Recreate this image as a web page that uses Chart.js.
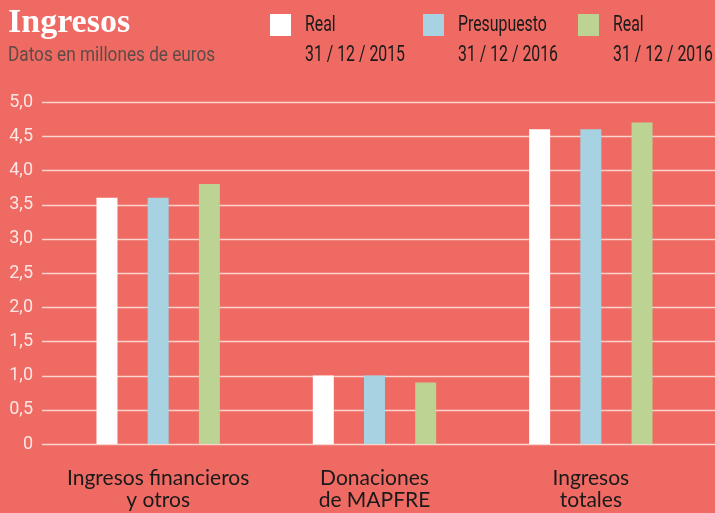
<!DOCTYPE html>
<html>
<head>
<meta charset="utf-8">
<script src="https://cdn.jsdelivr.net/npm/chart.js@4.4.1/dist/chart.umd.min.js"></script>
<style>
  html, body { margin: 0; padding: 0; }
  body { width: 715px; height: 513px; background: #ee6a62; position: relative; overflow: hidden; }
  #wrap { position: absolute; left: 0; top: 0; width: 715px; height: 513px; }
  #title { position: absolute; left: 8px; top: 2px; font-family: "Liberation Serif", serif; font-size: 34px; color: #fff; font-weight: bold; }
  #subtitle { position: absolute; left: 8px; top: 42px; font-family: Roboto, sans-serif; font-size: 20px; color: #5e4a47; white-space: nowrap; transform: scaleX(0.86); transform-origin: left top; }
  .leg { position: absolute; top: 9px; font-family: Roboto, sans-serif; font-size: 22px; color: #1a1a1a; line-height: 30px; white-space: nowrap; }
  .leg .txt { display: inline-block; transform: scaleX(0.72); transform-origin: left top; }
  .leg .sw { position: absolute; left: -35px; top: 5px; width: 21px; height: 22px; }
</style>
</head>
<body>
<div id="wrap"><canvas id="chart" width="715" height="513"></canvas></div>
<div id="title">Ingresos</div>
<div id="subtitle">Datos en millones de euros</div>
<div id="legend"></div>
<script>
// Categories (multi-line labels)
const categories = [
  ['Ingresos financieros', 'y otros'],
  ['Donaciones', 'de MAPFRE'],
  ['Ingresos', 'totales']
];

// Series values (millones de euros)
const real2015 = [3.6, 1.0, 4.6];
const presupuesto2016 = [3.6, 1.0, 4.6];
const real2016 = [3.8, 0.9, 4.7];

const seriesNames = [['Real', '31 / 12 / 2015'], ['Presupuesto', '31 / 12 / 2016'], ['Real', '31 / 12 / 2016']];
const seriesColors = ['#ffffff', '#a6d2e2', '#bcd394'];

// Y axis ticks and their labels
const yTicks = [0, 0.5, 1, 1.5, 2, 2.5, 3, 3.5, 4, 4.5, 5];
const yLabels = ['0', '0,5', '1,0', '1,5', '2,0', '2,5', '3,0', '3,5', '4,0', '4,5', '5,0'];

// HTML legend built from the series names
const legendX = [305, 458, 613];
const legendEl = document.getElementById('legend');
seriesNames.forEach((name, i) => {
  const d = document.createElement('div');
  d.className = 'leg';
  d.style.left = legendX[i] + 'px';
  d.innerHTML = '<span class="sw" style="background:' + seriesColors[i] + '"></span>' +
    '<span class="txt">' + name[0] + '<br>' + name[1] + '</span>';
  legendEl.appendChild(d);
});

// Draws the horizontal grid lines across the full width
const fullGrid = {
  id: 'fullGrid',
  beforeDatasetsDraw(chart) {
    const ctx = chart.ctx;
    const y = chart.scales.y;
    ctx.save();
    ctx.strokeStyle = '#fbd3cf';
    ctx.lineWidth = 1.5;
    yTicks.forEach(v => {
      const py = Math.round(y.getPixelForValue(v)) + 0.5;
      ctx.beginPath();
      ctx.moveTo(42, py);
      ctx.lineTo(715, py);
      ctx.stroke();
    });
    ctx.restore();
  }
};

const datasets = [real2015, presupuesto2016, real2016].map((values, i) => ({
  label: seriesNames[i].join(' '),
  data: values,
  backgroundColor: seriesColors[i],
  borderWidth: 0,
  barPercentage: 0.41,
  categoryPercentage: 0.71
}));

new Chart(document.getElementById('chart'), {
  type: 'bar',
  data: { labels: categories, datasets: datasets },
  options: {
    responsive: false,
    animation: false,
    layout: { padding: { top: 102, right: 16, bottom: 0, left: 0 } },
    plugins: { legend: { display: false }, tooltip: { enabled: false } },
    scales: {
      x: {
        afterFit(axis) { axis.height = 69; },
        grid: { display: false },
        border: { display: false },
        ticks: {
          color: '#1a1a1a',
          font: { family: 'Lato, "Noto Sans", sans-serif', size: 21, lineHeight: 1.05 },
          padding: 15
        }
      },
      y: {
        min: 0,
        max: 5,
        afterFit(axis) { axis.width = 50; },
        afterBuildTicks(axis) { axis.ticks = yTicks.map(v => ({ value: v })); },
        grid: { display: false, drawTicks: false },
        border: { display: false },
        ticks: {
          color: '#fde6e3',
          padding: 17,
          font: { family: 'Roboto, sans-serif', size: 18 },
          callback: (v, i) => yLabels[yTicks.indexOf(v)]
        }
      }
    }
  },
  plugins: [fullGrid]
});
</script>
</body>
</html>
